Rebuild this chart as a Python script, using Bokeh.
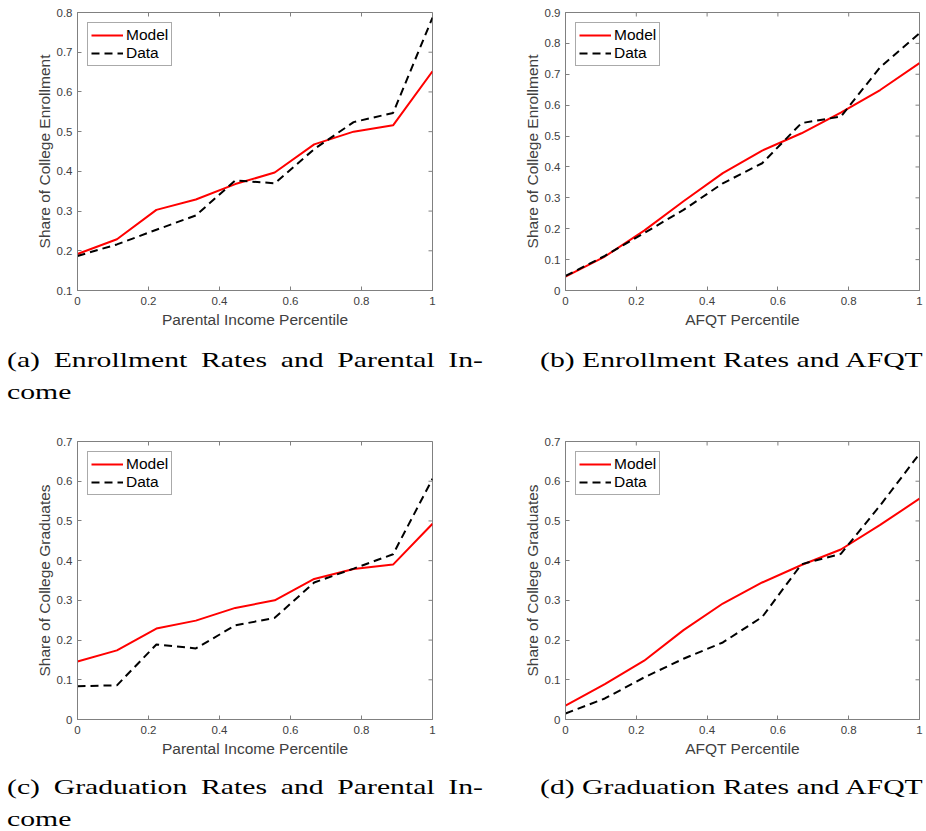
import math
from bokeh.plotting import figure
from bokeh.models import FixedTicker, Div, Legend, LegendItem
from bokeh.layouts import column, row
from bokeh.embed import file_html
from bokeh.resources import INLINE

# ---------------- data ----------------
x_pct = [0, 1/9, 2/9, 3/9, 4/9, 5/9, 6/9, 7/9, 8/9, 1]

enroll_inc_model = [0.192, 0.229, 0.303, 0.329, 0.368, 0.397, 0.468, 0.500, 0.516, 0.652]
enroll_inc_data  = [0.187, 0.216, 0.253, 0.289, 0.377, 0.370, 0.456, 0.524, 0.547, 0.787]

enroll_afqt_model = [0.045, 0.110, 0.194, 0.289, 0.380, 0.453, 0.509, 0.576, 0.649, 0.736]
enroll_afqt_data  = [0.047, 0.112, 0.186, 0.261, 0.347, 0.412, 0.542, 0.563, 0.723, 0.833]

grad_inc_model = [0.146, 0.174, 0.229, 0.249, 0.281, 0.300, 0.354, 0.379, 0.390, 0.493]
grad_inc_data  = [0.084, 0.086, 0.189, 0.179, 0.237, 0.256, 0.345, 0.380, 0.416, 0.606]

grad_afqt_model = [0.035, 0.089, 0.148, 0.225, 0.292, 0.345, 0.389, 0.428, 0.490, 0.556]
grad_afqt_data  = [0.015, 0.053, 0.106, 0.153, 0.194, 0.258, 0.391, 0.417, 0.539, 0.669]

x_ticks = [0, 0.2, 0.4, 0.6, 0.8, 1]
x_tick_labels = ["0", "0.2", "0.4", "0.6", "0.8", "1"]
y_ticks_a = [0.1, 0.2, 0.3, 0.4, 0.5, 0.6, 0.7, 0.8]
y_tick_labels_a = ["0.1", "0.2", "0.3", "0.4", "0.5", "0.6", "0.7", "0.8"]
y_ticks_b = [0, 0.1, 0.2, 0.3, 0.4, 0.5, 0.6, 0.7, 0.8, 0.9]
y_tick_labels_b = ["0", "0.1", "0.2", "0.3", "0.4", "0.5", "0.6", "0.7", "0.8", "0.9"]
y_ticks_c = [0, 0.1, 0.2, 0.3, 0.4, 0.5, 0.6, 0.7]
y_tick_labels_c = ["0", "0.1", "0.2", "0.3", "0.4", "0.5", "0.6", "0.7"]

series_names = ["Model", "Data"]

captions = [
    ("(a) Enrollment Rates and Parental In-", "come"),
    ("(b) Enrollment Rates and AFQT", None),
    ("(c) Graduation Rates and Parental In-", "come"),
    ("(d) Graduation Rates and AFQT", None),
]

SANS = "Liberation Sans"
AX_COL = "#808080"
LBL_COL = "#404040"


def style_axis(ax, ticks, labels):
    ax.ticker = FixedTicker(ticks=ticks)
    ax.major_label_overrides = dict(zip(ticks, labels))
    ax.minor_tick_line_color = None
    ax.major_tick_in = 4
    ax.major_tick_out = 0
    ax.axis_line_color = AX_COL
    ax.major_tick_line_color = AX_COL
    ax.axis_line_width = 1
    ax.major_label_text_font = SANS
    ax.major_label_text_font_size = "11.5px"
    ax.major_label_text_color = LBL_COL
    ax.axis_label_text_font = SANS
    ax.axis_label_text_font_size = "15.5px"
    ax.axis_label_text_font_style = "normal"
    ax.axis_label_text_color = LBL_COL


def make_panel(model, data, yticks, ylabels, xlabel, ylabel,
               left, fw, right, top):
    p = figure(frame_width=fw, frame_height=278,
               min_border_left=left, min_border_right=right,
               min_border_top=top, min_border_bottom=45,
               x_range=(0, 1), y_range=(yticks[0], yticks[-1]),
               output_backend="svg", toolbar_location=None,
               background_fill_color="white", border_fill_color="white")
    p.grid.visible = False
    p.outline_line_color = AX_COL
    style_axis(p.xaxis[0], x_ticks, x_tick_labels)
    style_axis(p.yaxis[0], yticks, ylabels)
    p.xaxis[0].axis_label = xlabel
    p.yaxis[0].axis_label = ylabel
    p.xaxis[0].major_label_standoff = 6
    p.xaxis[0].axis_label_standoff = 3
    p.yaxis[0].major_label_standoff = 5
    p.yaxis[0].axis_label_standoff = 1

    # inward tick marks on the top and right edges of the box
    p.scatter(x_ticks, [yticks[-1]] * len(x_ticks), marker="dash", size=8,
              angle=math.pi / 2, line_color=AX_COL, line_width=1)
    p.scatter([1] * len(yticks), yticks, marker="dash", size=8,
              line_color=AX_COL, line_width=1)

    r1 = p.line(x_pct, model, line_color="#ff0000", line_width=2)
    r2 = p.line(x_pct, data, line_color="black", line_width=2,
                line_dash="8 5")
    leg = Legend(items=[LegendItem(label=series_names[0], renderers=[r1]),
                        LegendItem(label=series_names[1], renderers=[r2])],
                 location="top_left", margin=10, padding=3, spacing=0,
                 glyph_width=32, glyph_height=18, label_height=18,
                 label_standoff=3,
                 label_text_font=SANS, label_text_font_size="15.5px",
                 label_text_color="black",
                 border_line_color="#555555", border_line_width=1,
                 background_fill_alpha=1.0)
    p.add_layout(leg, "center")
    return p


fa = make_panel(enroll_inc_model, enroll_inc_data, y_ticks_a, y_tick_labels_a,
                "Parental Income Percentile", "Share of College Enrollment",
                77, 355, 64, 12)
fb = make_panel(enroll_afqt_model, enroll_afqt_data, y_ticks_b, y_tick_labels_b,
                "AFQT Percentile", "Share of College Enrollment",
                69, 354, 6, 12)
fc = make_panel(grad_inc_model, grad_inc_data, y_ticks_c, y_tick_labels_c,
                "Parental Income Percentile", "Share of College Graduates",
                77, 355, 64, 4)
fd = make_panel(grad_afqt_model, grad_afqt_data, y_ticks_c, y_tick_labels_c,
                "AFQT Percentile", "Share of College Graduates",
                69, 354, 6, 4)

SC = 1.35
SERIF = "'Liberation Serif', 'Times New Roman', serif"


def cap_block(left, width, line1, line2, pad, lh2, gap2):
    inner_w = width / SC
    html = (f'<div style="position:absolute;left:{left}px;top:{pad}px;'
            f'width:{inner_w:.1f}px;transform:scaleX({SC});transform-origin:0 0;'
            f'font-family:{SERIF};font-size:22px;color:#000;">')
    if line2:
        html += (f'<div style="line-height:32px;height:32px;'
                 f'text-align:justify;text-align-last:justify;">{line1}</div>')
        html += (f'<div style="line-height:{lh2}px;height:{lh2}px;'
                 f'margin-top:{gap2}px;text-align:left;">{line2}</div>')
    else:
        html += (f'<div style="line-height:32px;height:32px;'
                 f'white-space:nowrap;text-align:left;">{line1}</div>')
    html += '</div>'
    return html


def cap_row(cl, cr, height, pad, lh2, gap2):
    html = f'<div style="position:relative;width:926px;height:{height}px;">'
    html += cap_block(7, 476, cl[0], cl[1], pad, lh2, gap2)
    html += cap_block(540, 384, cr[0], cr[1], pad, lh2, gap2)
    html += '</div>'
    return Div(text=html, width=926, height=height, margin=0)


cap1 = cap_row(captions[0], captions[1], 102, 9, 32, 0)
cap2 = cap_row(captions[2], captions[3], 67, 7, 6, 13)

layout = column(row(fa, fb, spacing=0), cap1, row(fc, fd, spacing=0), cap2,
                spacing=0)

open("out.html", "w").write(file_html(layout, INLINE))
